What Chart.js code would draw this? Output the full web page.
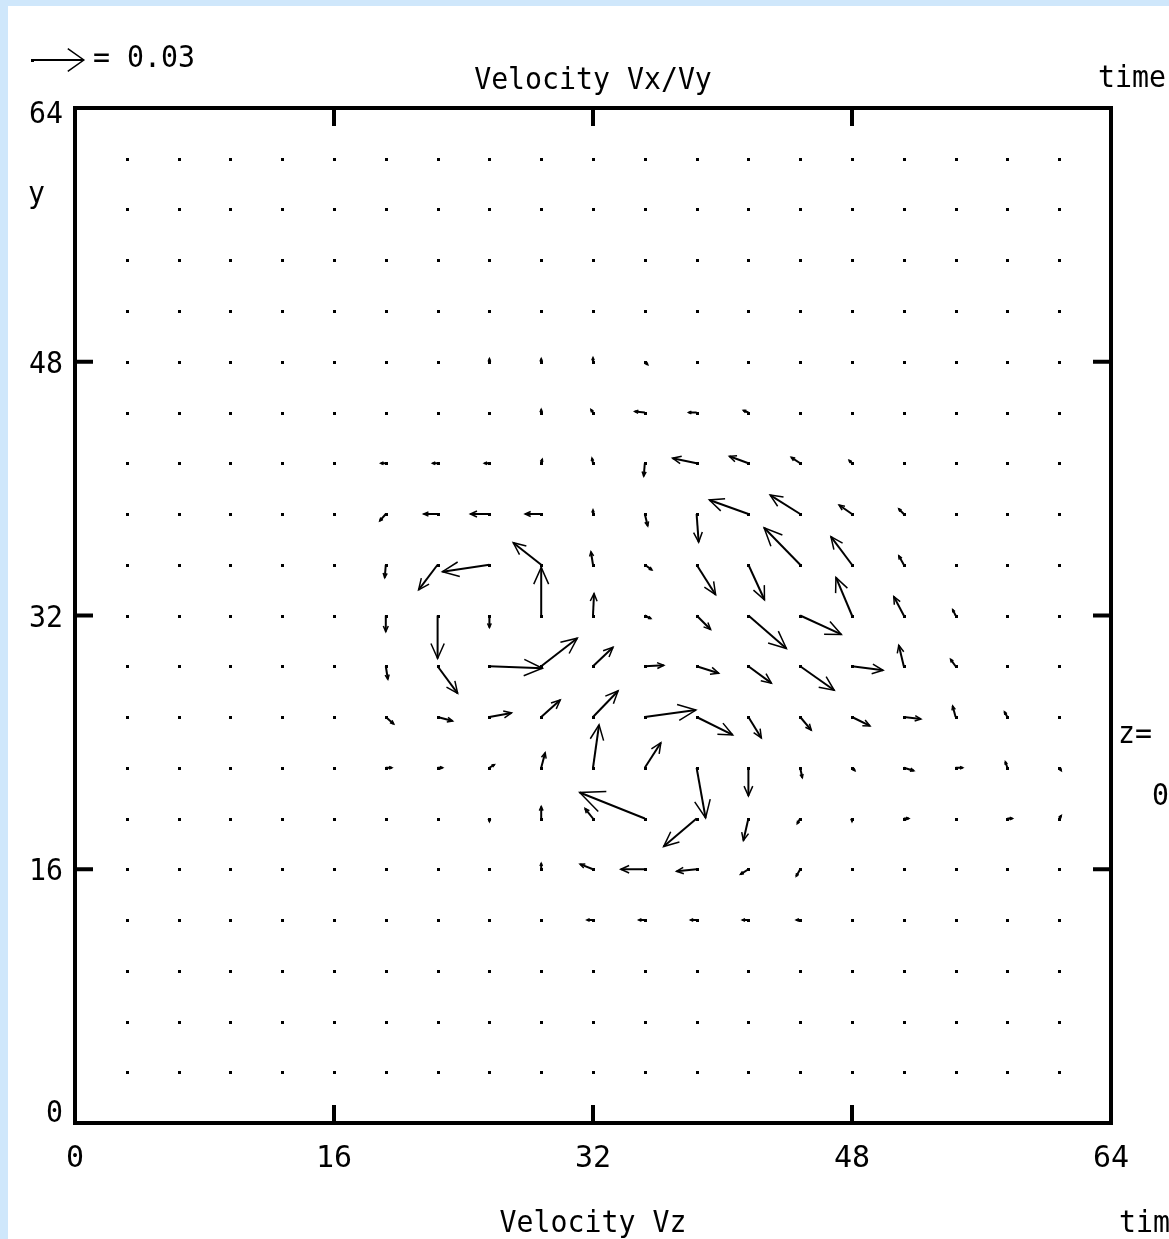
<!DOCTYPE html>
<html><head><meta charset="utf-8">
<script src="https://cdn.jsdelivr.net/npm/chart.js@4.4.0/dist/chart.umd.min.js"></script>
<style>
html,body{margin:0;padding:0;background:#cfe7fb;width:1169px;height:1239px;overflow:hidden;}
#wrap{position:absolute;left:8px;top:6px;width:1161px;height:1233px;background:#ffffff;overflow:hidden;}
canvas{display:block;}
</style></head><body>
<div id="wrap"><canvas id="c" width="1161" height="1233"></canvas></div>
<script>
// ---- data ----
const gridX = [3.2, 6.4, 9.6, 12.8, 16, 19.2, 22.4, 25.6, 28.8, 32, 35.2, 38.4, 41.6, 44.8, 48, 51.2, 54.4, 57.6, 60.8];
const gridY = [60.8, 57.6, 54.4, 51.2, 48, 44.8, 41.6, 38.4, 35.2, 32, 28.8, 25.6, 22.4, 19.2, 16, 12.8, 9.6, 6.4, 3.2];
// Vx per row (top row first), velocity units
const U = [
 [0,0,0,0,0,0,0,0,0,0,0,0,0,0,0,0,0,0,0],
 [0,0,0,0,0,0,0,0,0,0,0,0,0,0,0,0,0,0,0],
 [0,0,0,0,0,0,0,0,0,0,0,0,0,0,0,0,0,0,0],
 [0,0,0,0,0,0,0,0,0,0,0,0,0,0,0,0,0,0,0],
 [0,0,0,0,0,0,0,0,0,0,0.0017,-0.0017,-0.0017,0,0,0,0,0,0],
 [0,0,0,0,0,0,0,0,0,-0.0012,-0.0058,-0.0046,-0.0029,-0.0017,-0.0017,0,0,0,0],
 [0,0,0,0,0,-0.0029,-0.0029,-0.0029,0.0006,-0.0006,-0.0006,-0.0139,-0.0110,-0.0052,-0.0017,-0.0017,0,0,0],
 [0,0,0,0,0,-0.0035,-0.0081,-0.0110,-0.0093,0,0.0017,0.0012,-0.0226,-0.0174,-0.0075,-0.0029,0,0,0],
 [0,0,0,0,0,-0.0006,-0.0110,-0.0272,-0.0162,-0.0012,0.0041,0.0110,0.0093,-0.0209,-0.0122,-0.0029,0,0,0],
 [0,0,0,0,0,0,0,0,0,0.0006,0.0035,0.0081,0.0220,0.0238,-0.0093,-0.0058,-0.0017,0,0],
 [0,0,0,0,0,0.0012,0.0116,0.0307,0.0209,0.0116,0.0110,0.0128,0.0133,0.0197,0.0180,-0.0029,-0.0029,0,0],
 [0,0,0,0,0,0.0046,0.0087,0.0128,0.0110,0.0145,0.0296,0.0209,0.0075,0.0064,0.0104,0.0099,-0.0017,-0.0017,0],
 [0,0,0,0,0,0.0035,0.0029,0.0029,0.0023,0.0035,0.0093,0.0052,0,0.0012,0.0017,0.0058,0.0041,-0.0012,0.0012],
 [0,0,0,0,0,0,0,0,0,-0.0046,-0.0377,-0.0191,-0.0029,-0.0017,0,0.0029,0,0.0029,0.0012],
 [0,0,0,0,0,0,0,0,0,-0.0075,-0.0139,-0.0116,-0.0046,-0.0023,0,0,0,0,0],
 [0,0,0,0,0,0,0,0,-0.0017,-0.0035,-0.0035,-0.0035,-0.0035,-0.0023,0,0,0,0,0],
 [0,0,0,0,0,0,0,0,0,0,0,0,0,0,0,0,0,0,0],
 [0,0,0,0,0,0,0,0,0,0,0,0,0,0,0,0,0,0,0],
 [0,0,0,0,0,0,0,0,0,0,0,0,0,0,0,0,0,0,0]
];
// Vy per row (top row first), velocity units
const V = [
 [0,0,0,0,0,0,0,0,0,0,0,0,0,0,0,0,0,0,0],
 [0,0,0,0,0,0,0,0,0,0,0,0,0,0,0,0,0,0,0],
 [0,0,0,0,0,0,0,0,0,0,0,0,0,0,0,0,0,0,0],
 [0,0,0,0,0,0,0,0,0,0,0,0,0,0,0,0,0,0,0],
 [0,0,0,0,0,0,0,0.0018,0.0018,0.0024,-0.0018,0,0,0,0,0,0,0,0],
 [0,0,0,0,0,0,0,0,0.0018,0.0018,0.0006,0,0.0012,0,0,0,0,0,0],
 [0,0,0,0,0,0,0,0,0.0024,0.0030,-0.0077,0.0030,0.0041,0.0035,0.0018,0,0,0,0],
 [0,0,0,0,0,-0.0041,0,0,0,0.0024,-0.0071,-0.0166,0.0083,0.0112,0.0053,0.0030,0,0,0],
 [0,0,0,0,0,-0.0077,-0.0148,-0.0041,0.0130,0.0077,-0.0030,-0.0177,-0.0207,0.0219,0.0166,0.0053,0,0,0],
 [0,0,0,0,0,-0.0095,-0.0254,-0.0071,0.0284,0.0130,-0.0018,-0.0083,-0.0195,-0.0112,0.0225,0.0112,0.0035,0,0],
 [0,0,0,0,0,-0.0077,-0.0160,-0.0012,0.0166,0.0112,0.0006,-0.0041,-0.0100,-0.0142,-0.0024,0.0124,0.0041,0,0],
 [0,0,0,0,0,-0.0041,-0.0024,0.0024,0.0100,0.0154,0.0041,-0.0106,-0.0124,-0.0077,-0.0053,-0.0012,0.0065,0.0030,0],
 [0,0,0,0,0,0,0,0.0018,0.0089,0.0254,0.0148,-0.0296,-0.0166,-0.0059,-0.0018,-0.0018,0,0.0035,-0.0018],
 [0,0,0,0,0,0,0,-0.0018,0.0071,0.0059,0.0154,-0.0166,-0.0130,-0.0030,-0.0018,0,0,0,0.0018],
 [0,0,0,0,0,0,0,0,0.0035,0.0030,0,-0.0012,-0.0030,-0.0041,0,0,0,0,0],
 [0,0,0,0,0,0,0,0,0,0,0,0,0,0,0,0,0,0,0],
 [0,0,0,0,0,0,0,0,0,0,0,0,0,0,0,0,0,0,0],
 [0,0,0,0,0,0,0,0,0,0,0,0,0,0,0,0,0,0,0],
 [0,0,0,0,0,0,0,0,0,0,0,0,0,0,0,0,0,0,0]
];
const xTickValues = [0, 16, 32, 48, 64];
const yTickValues = [0, 16, 32, 48, 64];
const refVelocity = 0.03;     // legend arrow value
const refLength = 3.2;        // data units drawn for refVelocity
const titleText = 'Velocity Vx/Vy';
const bottomText = 'Velocity Vz';
const legendText = '= 0.03';
const yAxisLabel = 'y';
const timeText = 'time';
const zText = 'z=';
const zValue = '0';

// ---- build dataset ----
const points = [];
gridY.forEach((y, r) => gridX.forEach((x, c) => points.push({x, y, u: U[r][c], v: V[r][c]})));

const FONT_FAMILY = '"DejaVu Sans Mono", "Liberation Mono", monospace';

function drawArrow(ctx, x0, y0, x1, y1, spread) {
  const dx = x1 - x0, dy = y1 - y0, len = Math.hypot(dx, dy);
  ctx.fillRect(Math.round(x0) - 1, Math.round(y0) - 1, 3, 3);
  if (len < 3) return;
  ctx.lineWidth = 2;
  ctx.beginPath(); ctx.moveTo(x0, y0); ctx.lineTo(x1, y1); ctx.stroke();
  const h = Math.max(3, 0.38 * len), a = Math.atan2(dy, dx);
  ctx.lineWidth = 1.5;
  ctx.beginPath();
  ctx.moveTo(x1 - h * Math.cos(a - spread), y1 - h * Math.sin(a - spread));
  ctx.lineTo(x1, y1);
  ctx.lineTo(x1 - h * Math.cos(a + spread), y1 - h * Math.sin(a + spread));
  ctx.stroke();
}

function txt(ctx, s, x, y, align) {
  ctx.save();
  ctx.font = '30px ' + FONT_FAMILY;
  ctx.textAlign = 'left';
  ctx.textBaseline = 'alphabetic';
  const sx = 0.94;
  const w = ctx.measureText(s).width * sx;
  let left = x;
  if (align === 'center') left = x - w / 2;
  else if (align === 'right') left = x - w;
  ctx.translate(left, y);
  ctx.scale(sx, 1);
  ctx.fillText(s, 0, 0);
  ctx.restore();
}

const quiverPlugin = {
  id: 'quiver',
  afterDatasetsDraw(chart) {
    const ctx = chart.ctx, xs = chart.scales.x, ys = chart.scales.y;
    const S = refLength / refVelocity;
    ctx.save();
    ctx.strokeStyle = '#000'; ctx.fillStyle = '#000'; ctx.lineCap = 'butt';
    chart.data.datasets[0].data.forEach(p => {
      const x0 = xs.getPixelForValue(p.x), y0 = ys.getPixelForValue(p.y);
      const x1 = xs.getPixelForValue(p.x + p.u * S), y1 = ys.getPixelForValue(p.y + p.v * S);
      drawArrow(ctx, x0, y0, x1, y1, 0.42);
    });
    ctx.restore();
  },
  afterDraw(chart) {
    const ctx = chart.ctx, xs = chart.scales.x, ys = chart.scales.y, ca = chart.chartArea;
    ctx.save();
    ctx.strokeStyle = '#000'; ctx.fillStyle = '#000';
    // frame
    ctx.lineWidth = 4;
    ctx.strokeRect(ca.left, ca.top, ca.right - ca.left, ca.bottom - ca.top);
    // inward ticks
    const TL = 18;
    ctx.beginPath();
    xTickValues.slice(1, -1).forEach(v => {
      const px = xs.getPixelForValue(v);
      ctx.moveTo(px, ca.bottom); ctx.lineTo(px, ca.bottom - TL);
      ctx.moveTo(px, ca.top); ctx.lineTo(px, ca.top + TL);
    });
    yTickValues.slice(1, -1).forEach(v => {
      const py = ys.getPixelForValue(v);
      ctx.moveTo(ca.left, py); ctx.lineTo(ca.left + TL, py);
      ctx.moveTo(ca.right, py); ctx.lineTo(ca.right - TL, py);
    });
    ctx.stroke();
    // y tick labels from the scale
    ys.ticks.forEach(t => {
      const py = ys.getPixelForValue(t.value);
      const base = Math.min(Math.max(py + 11, ca.top + 15), ca.bottom - 1);
      txt(ctx, String(t.value), ca.left - 12, base, 'right');
    });
    // legend arrow
    const L = xs.getPixelForValue(refLength) - xs.getPixelForValue(0);
    drawArrow(ctx, 24, 54, 24 + L, 54, 0.62);
    txt(ctx, legendText, 85, 61, 'left');
    // texts
    txt(ctx, titleText, (ca.left + ca.right) / 2, 83, 'center');
    txt(ctx, timeText, 1090, 81, 'left');
    txt(ctx, yAxisLabel, 20, 197, 'left');
    txt(ctx, zText, 1110, 737, 'left');
    txt(ctx, zValue, 1144, 799, 'left');
    txt(ctx, bottomText, (ca.left + ca.right) / 2, 1226, 'center');
    txt(ctx, timeText, 1111, 1226, 'left');
    ctx.restore();
  }
};

new Chart(document.getElementById('c'), {
  type: 'scatter',
  data: { datasets: [{ data: points, pointRadius: 0, pointHoverRadius: 0, showLine: false }] },
  options: {
    responsive: false,
    animation: false,
    devicePixelRatio: 1,
    layout: { padding: { left: 0, right: 58, top: 102, bottom: 0 } },
    plugins: { legend: { display: false }, tooltip: { enabled: false }, title: { display: false } },
    events: [],
    scales: {
      x: {
        type: 'linear', min: 0, max: 64,
        afterBuildTicks: s => { s.ticks = xTickValues.map(v => ({ value: v })); },
        afterFit: s => { s.height = 116; },
        grid: { display: false, drawTicks: false },
        border: { display: false },
        ticks: { color: '#000', padding: 18, maxRotation: 0, autoSkip: false,
                 font: { family: FONT_FAMILY, size: 30 }, callback: v => String(v) }
      },
      y: {
        type: 'linear', min: 0, max: 64,
        afterBuildTicks: s => { s.ticks = yTickValues.map(v => ({ value: v })); },
        afterFit: s => { s.width = 67; },
        grid: { display: false, drawTicks: false },
        border: { display: false },
        ticks: { display: false }
      }
    }
  },
  plugins: [quiverPlugin]
});
</script>
</body></html>
